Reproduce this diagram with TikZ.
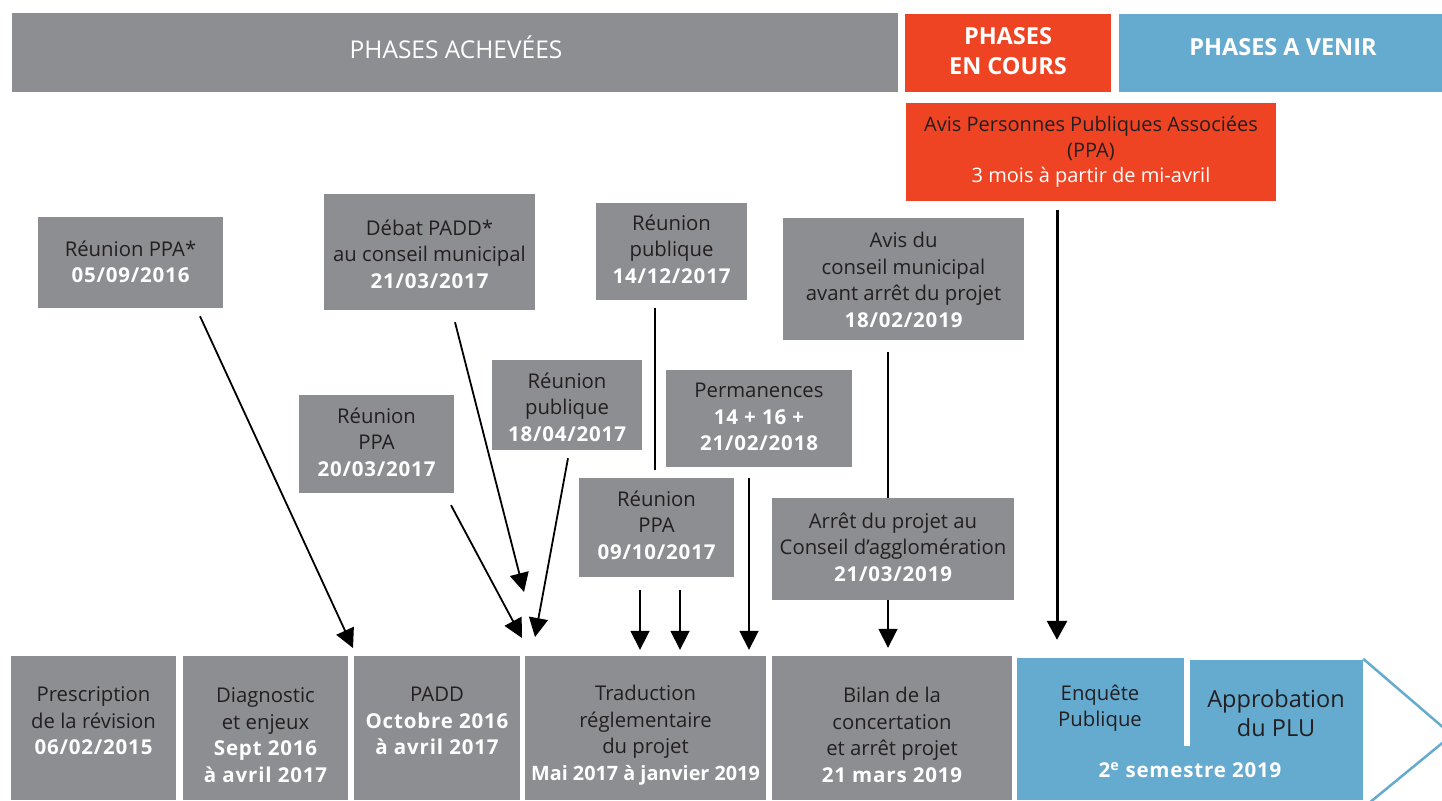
\documentclass[tikz,border=0pt]{standalone}
\usepackage{fontspec}
\setmainfont{Open Sans}
\usetikzlibrary{calc,arrows.meta}
\definecolor{gr}{HTML}{8D8E92}
\definecolor{rd}{HTML}{EF4423}
\definecolor{bl}{HTML}{65ABCF}
\definecolor{dk}{HTML}{231F20}
\newcommand\datew[1]{{\color{white}\fontsize{20.5}{26.5}\selectfont\bfseries\addfontfeatures{LetterSpace=4}#1}}
\pgfdeclarelayer{bg}
\pgfsetlayers{bg,main}
\begin{document}
\begin{tikzpicture}[x=1pt,y=-1pt,
  boxg/.style={fill=gr,inner sep=0,draw=none},
  boxr/.style={fill=rd,inner sep=0,draw=none},
  boxb/.style={fill=bl,inner sep=0,draw=none},
  txt/.style={align=center,text=dk,inner sep=0,font=\fontsize{20.3}{26.5}\selectfont},
  hdr/.style={align=center,text=white,inner sep=0,font=\fontsize{24.5}{30}\selectfont},
  conn/.style={line width=1.8pt,black},
  arr/.style={conn,-{Triangle[width=19pt,length=19pt]}},
  arrbig/.style={line width=3pt,black,-{Triangle[width=20pt,length=19pt]}}]
\useasboundingbox (0,0) rectangle (1442,800);
\begin{pgfonlayer}{bg}
\fill[white] (0,0) rectangle (1442,800);
\end{pgfonlayer}
% helper: box by corners
\newcommand\bx[6]{\node[#6,minimum width={#4-#2},minimum height={#5-#3}] (#1) at ({(#2+#4)/2},{(#3+#5)/2}) {};}
% header
\bx{ach}{12}{13}{898}{92}{boxg}
\bx{cours}{905}{14}{1111}{92}{boxr}
\bx{venir}{1119}{14}{1442}{92}{boxb}
\node[hdr] (tach) at (456,47) {PHASES ACHEVÉES};
\node[hdr,font=\fontsize{23.5}{30}\selectfont\bfseries] (tcours) at (1008,51) {PHASES\\EN COURS};
\node[hdr,font=\fontsize{23.5}{30}\selectfont\bfseries] (tvenir) at (1283,47) {PHASES A VENIR};
% avis PPA
\bx{avisppa}{906}{103}{1276}{201}{boxr}
\node[txt,font=\fontsize{20}{25.5}\selectfont] (tavisppa) at (1091,152) {Avis Personnes Publiques Associées\\(PPA)\\{\color{white}3 mois à partir de mi-avril}};
% event boxes
\bx{rppa}{38}{217}{223}{308}{boxg}
\node[txt] (trppa) at (130.5,262) {Réunion PPA*\\\datew{05/09/2016}};
\bx{debat}{324}{194}{535}{310}{boxg}
\node[txt] (tdebat) at (429.5,254) {Débat PADD*\\au conseil municipal\\\datew{21/03/2017}};
\bx{rpub1}{596}{203}{747}{300}{boxg}
\node[txt] (trpub1) at (671.5,249) {Réunion\\publique\\\datew{14/12/2017}};
\bx{aviscm}{783}{218}{1024}{340}{boxg}
\node[txt] (taviscm) at (903.5,280) {Avis du\\conseil municipal\\avant arrêt du projet\\\datew{18/02/2019}};
\bx{rppa2}{299}{395}{454}{493}{boxg}
\node[txt] (trppa2) at (376.5,442) {Réunion\\PPA\\\datew{20/03/2017}};
\bx{rpub2}{492}{360}{642}{450}{boxg}
\node[txt] (trpub2) at (567,407) {Réunion\\publique\\\datew{18/04/2017}};
\bx{perm}{666}{370}{852}{467}{boxg}
\node[txt] (tperm) at (759,417) {Permanences\\\datew{14 + 16 +}\\\datew{21/02/2018}};
\bx{rppa3}{579}{478}{734}{577}{boxg}
\node[txt] (trppa3) at (656.5,525) {Réunion\\PPA\\\datew{09/10/2017}};
\bx{arret}{772}{498}{1014}{600}{boxg}
\node[txt] (tarret) at (893,547) {Arrêt du projet au\\Conseil d’agglomération\\\datew{21/03/2019}};
% bottom phases
\bx{b1}{11}{656}{176}{800}{boxg}
\node[txt] (tb1) at (93.5,721) {Prescription\\de la révision\\\datew{06/02/2015}};
\bx{b2}{183}{656}{348}{800}{boxg}
\node[txt] (tb2) at (265.5,735) {Diagnostic\\et enjeux\\\datew{Sept 2016}\\\datew{à avril 2017}};
\bx{b3}{354}{656}{520}{800}{boxg}
\node[txt] (tb3) at (437,721) {PADD\\\datew{Octobre 2016}\\\datew{à avril 2017}};
\bx{b4}{525}{656}{766}{800}{boxg}
\node[txt] (tb4) at (645.5,735) {Traduction\\réglementaire\\du projet\\{\color{white}\fontsize{19.8}{26.5}\selectfont\bfseries Mai 2017 à janvier 2019}};
\bx{b5}{772}{656}{1012}{800}{boxg}
\node[txt] (tb5) at (892,735) {Bilan de la\\concertation\\et arrêt projet\\\datew{21 mars 2019}};
% blue future phases
\bx{enq}{1017}{658}{1184}{747}{boxb}
\bx{appro}{1190}{660}{1363}{747}{boxb}
\bx{sem}{1017}{746}{1363}{800}{boxb}
\node[txt] (tenq) at (1100,708) {Enquête\\Publique};
\node[txt,font=\fontsize{23.5}{29}\selectfont] (tappro) at (1276,713) {Approbation\\du PLU};
\node[txt] (tsem) at (1190,770) {\datew{2\textsuperscript{e} semestre 2019}};
\draw[bl,line width=2.5pt] ($(appro.north east)+(0,-1)$) coordinate (ch1) -- (1452,735) coordinate (chtip) -- (1363,808) coordinate (ch2);
% connectors
\begin{pgfonlayer}{bg}
\coordinate (e1) at (353,648);
\coordinate (e2) at (524,592);
\coordinate (e3) at (522,638);
\coordinate (e4) at (535,637);
\draw[arr] ($(rppa.south)+(69.5,8)$) -- (e1);
\draw[arr] ($(debat.south)+(25.5,12)$) -- (e2);
\draw[arr] ($(rppa2.south)+(74.5,12)$) -- (e3);
\draw[arr] ($(rpub2.south)+(1,8)$) -- (e4);
\draw[conn] ($(rpub1.south)+(-16.5,8)$) -- ($(rppa3.north)+(-1.5,-8)$);
\draw[arr] ($(rppa3.south)+(-16.5,13)$) -- ($(b4.north)+(-5.5,-6)$);
\draw[arr] ($(rppa3.south)+(23.5,13)$) -- ($(b4.north)+(34.5,-6)$);
\draw[arr] ($(perm.south)+(-10,11)$) -- ($(b4.north)+(103.5,-6)$);
\draw[arr] ($(aviscm.south)+(-15.5,12)$) -- ($(b5.north)+(-4,-8)$);
\draw[arrbig] ($(avisppa.south)+(-34,9)$) -- ($(enq.north)+(-43.5,-18)$);
\end{pgfonlayer}
\end{tikzpicture}
\end{document}
